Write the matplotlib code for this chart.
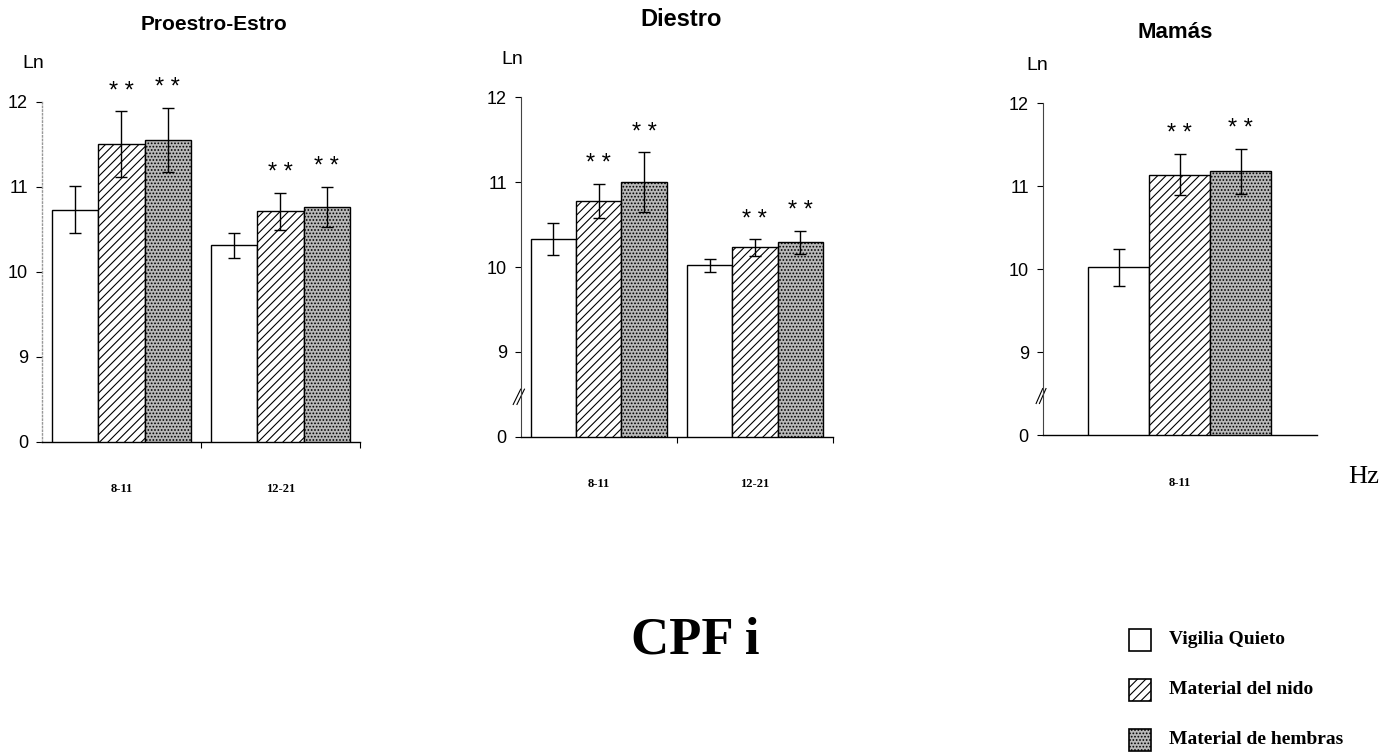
import numpy as np
import matplotlib
matplotlib.use("Agg")
import matplotlib.pyplot as plt
from matplotlib.patches import Rectangle
from matplotlib.transforms import blended_transform_factory

# data (Ln power), axis is broken: the "0" tick is drawn where 8 would be
bands_p1 = ["8-11", "12-21"]
quieto_p1 = [10.73, 10.31]
nido_p1 = [11.50, 10.71]
hembras_p1 = [11.55, 10.76]
quieto_err_p1 = [0.28, 0.15]
nido_err_p1 = [0.39, 0.22]
hembras_err_p1 = [0.38, 0.24]

bands_p2 = ["8-11", "12-21"]
quieto_p2 = [10.33, 10.02]
nido_p2 = [10.78, 10.23]
hembras_p2 = [11.00, 10.29]
quieto_err_p2 = [0.19, 0.08]
nido_err_p2 = [0.20, 0.10]
hembras_err_p2 = [0.35, 0.14]

bands_p3 = ["8-11"]
quieto_p3 = [10.02]
nido_p3 = [11.14]
hembras_p3 = [11.18]
quieto_err_p3 = [0.22]
nido_err_p3 = [0.25]
hembras_err_p3 = [0.27]

titles = ["Proestro-Estro", "Diestro", "Mamás"]
legend_labels = ["Vigilia Quieto", "Material del nido", "Material de hembras"]
ytick_vals = [8, 9, 10, 11, 12]
ytick_labels = ["0", "9", "10", "11", "12"]

W, H = 1386, 752
plt.rcParams["hatch.linewidth"] = 0.8
sans = ["Liberation Sans", "DejaVu Sans"]
serif = ["Liberation Serif", "DejaVu Serif"]

fig = plt.figure(figsize=(W / 100, H / 100), dpi=100)


def px(x, y):
    return x / W, 1 - y / H


styles = [
    dict(facecolor="white", edgecolor="black", hatch=None),
    dict(facecolor="white", edgecolor="black", hatch="////"),
    dict(facecolor="#b9b9b9", edgecolor="black", hatch="....."),
]


def panel(rect, bands, series, errs, width, xlim, spine_style, mid_ticks):
    ax = fig.add_axes(rect)
    x = np.arange(len(bands))
    offsets = [-width, 0, width]
    for s, (vals, err, off, st) in enumerate(zip(series, errs, offsets, styles)):
        ax.bar(x + off, vals, width, linewidth=1.0, zorder=2, **st)
        ax.errorbar(x + off, vals, yerr=err, fmt="none", ecolor="black",
                    elinewidth=1.0, capsize=4, capthick=1.0, zorder=3)
        if s > 0:
            for xi, v, e in zip(x + off, vals, err):
                ax.annotate("* *", (xi, v + e), xytext=(0, 14), textcoords="offset points",
                            ha="center", va="center", fontsize=17, family=sans,
                            annotation_clip=False)
    ax.set_xlim(*xlim)
    ax.set_ylim(8, 12)
    ax.tick_params(axis="y", length=4, width=0.8, pad=6)
    ax.tick_params(axis="x", which="minor", length=0, pad=30)
    ax.tick_params(axis="x", which="major", length=4, width=0.8)
    ax.set_yticks(ytick_vals, ytick_labels, fontsize=13, family=sans)
    # bare marks between groups as major ticks, category labels as minor ones
    if mid_ticks:
        ax.set_xticks(x + 0.5, [""] * len(bands))
    else:
        ax.set_xticks([])
    ax.set_xticks(x, bands, minor=True)
    for lbl in ax.get_xticklabels(minor=True):
        lbl.set(fontsize=9, family=serif, fontweight="bold")
    for side in ["top", "right"]:
        ax.spines[side].set_visible(False)
    ax.spines["bottom"].set_linewidth(1.0)
    ax.spines["left"].set(**spine_style)
    return ax


ax1 = panel([42 / W, 1 - 441.7 / H, 318 / W, 340 / H], bands_p1,
            [quieto_p1, nido_p1, hembras_p1], [quieto_err_p1, nido_err_p1, hembras_err_p1],
            0.29, (-0.5, 1.5), dict(linestyle=":", color="#999999", linewidth=1.0), True)
ax2 = panel([520.7 / W, 1 - 436.7 / H, 312.3 / W, 339.4 / H], bands_p2,
            [quieto_p2, nido_p2, hembras_p2], [quieto_err_p2, nido_err_p2, hembras_err_p2],
            0.29, (-0.5, 1.5), dict(color="#444444", linewidth=0.8), True)
ax3 = panel([1042.7 / W, 1 - 435 / H, 274 / W, 331.7 / H], bands_p3,
            [quieto_p3, nido_p3, hembras_p3], [quieto_err_p3, nido_err_p3, hembras_err_p3],
            0.222, (-0.5, 0.5), dict(color="#444444", linewidth=0.8), False)

# axis break marks
for ax in [ax2, ax3]:
    tr = blended_transform_factory(ax.transAxes, ax.transData)
    for dx in [-0.012, 0.0]:
        ax.plot([dx - 0.012, dx + 0.012], [8.38, 8.56], color="black", linewidth=0.8,
                transform=tr, clip_on=False)

# titles and unit labels
fig.text(*px(214, 25), titles[0], ha="center", va="center", fontsize=15,
         fontweight="bold", family=sans)
fig.text(*px(681, 20), titles[1], ha="center", va="center", fontsize=17,
         fontweight="bold", family=sans)
fig.text(*px(1175, 33), titles[2], ha="center", va="center", fontsize=16,
         fontweight="bold", family=sans)
for xl, yl in [(33, 64), (512, 60), (1037, 66)]:
    fig.text(*px(xl, yl), "Ln", ha="center", va="center", fontsize=14, family=sans)
fig.text(*px(1364, 477), "Hz", ha="center", va="center", fontsize=19, family=serif)
fig.text(*px(695, 640), "CPF i", ha="center", va="center", fontsize=38,
         fontweight="bold", family=serif)

# legend
for i, (lab, st) in enumerate(zip(legend_labels, styles)):
    yc = 640 + 50 * i
    x0, y0 = px(1129, yc + 11)
    fig.add_artist(Rectangle((x0, y0), 22 / W, 22 / H, transform=fig.transFigure,
                             linewidth=1.2, **st))
    fig.text(*px(1169, yc), lab, ha="left", va="center", fontsize=14,
             fontweight="bold", family=serif)

fig.savefig("out.png", dpi=100)
